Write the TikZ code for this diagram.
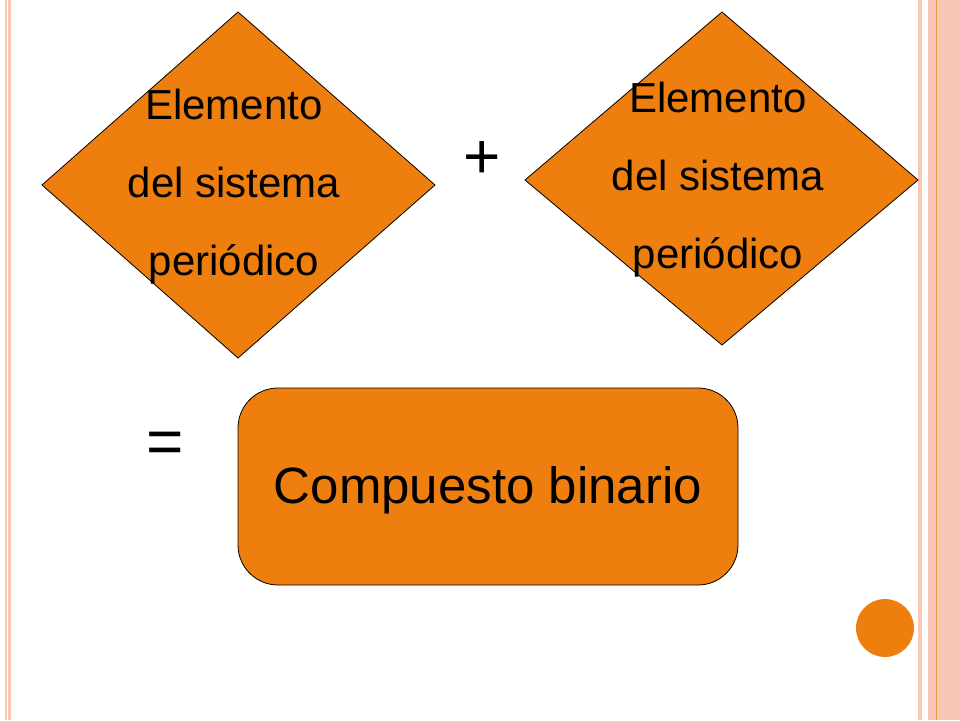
\documentclass[tikz,border=0pt]{standalone}
\usepackage{fontspec}
\setmainfont{Liberation Sans}
\usetikzlibrary{shapes.geometric}
\definecolor{naranja}{RGB}{238,127,14}
\definecolor{franja}{RGB}{246,199,181}
\tikzset{
  rombo/.style={draw=black, fill=naranja, line width=0.8pt},
  rombotexto/.style={align=center, font=\fontsize{42}{78}\selectfont},
  franjas/.style={fill=franja, draw=none}
}
\begin{document}
\begin{tikzpicture}[x=1pt,y=-1pt]
\useasboundingbox (0,0) rectangle (960,720);
% margins
\fill[franjas] (5,0) rectangle (7,720);
\fill[franjas] (8,0) rectangle (11,720);
\fill[franjas] (918,0) rectangle (922,720);
\fill[franjas] (928,0) rectangle (960,720);
\draw[naranja!80, line width=1pt] (936,0) -- (936,720);
% diamonds
\draw[rombo] (238,12) -- (435,185) -- (238,358) -- (42,185) -- cycle;
\draw[rombo] (722,12) -- (918,180) -- (722,345) -- (525,180) -- cycle;
\node[rombotexto] (elemA) at (234,187) {Elemento\\del sistema\\periódico};
\node[rombotexto] (elemB) at (718,180) {Elemento\\del sistema\\periódico};
\node[font=\fontsize{64}{64}\selectfont] (mas) at (482,160) {+};
\node[font=\fontsize{64}{64}\selectfont] (igual) at (165,448) {=};
% result
\draw[rombo, rounded corners=40pt] (238,388) rectangle (738,585);
\node[font=\fontsize{51}{60}\selectfont] (compuesto) at (488,490) {Compuesto binario};
\fill[naranja] (885,628) circle (29);
\end{tikzpicture}
\end{document}
